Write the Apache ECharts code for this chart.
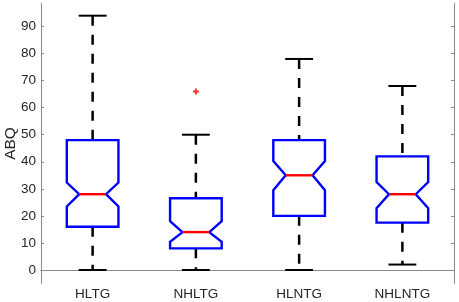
<!DOCTYPE html>
<html>
<head>
<meta charset="utf-8">
<script src="https://cdn.jsdelivr.net/npm/echarts@6/dist/echarts.min.js"></script>
<style>
html,body{margin:0;padding:0;background:#fff;}
#chart{width:459px;height:302px;}
</style>
</head>
<body>
<div id="chart"></div>
<script>
// box plot stats
var categories = ['HLTG', 'NHLTG', 'HLNTG', 'NHLNTG'];
var whiskerLow = [0, 0, 0, 2];
var q1 = [16, 8, 20, 17.5];
var notchLow = [23.5, 10.4, 29.5, 22.8];
var median = [28, 14, 35, 28];
var notchHigh = [32.3, 18, 40.3, 32.5];
var q3 = [48, 26.5, 48, 42];
var whiskerHigh = [94, 50, 78, 68];
var outlierCat = ['NHLTG'];
var outlierVal = [66];
var yTicks = [0, 10, 20, 30, 40, 50, 60, 70, 80, 90];

var axisGray = '#8a8a8a';
var textColor = '#262626';
var font = 'Liberation Sans';

var boxData = [];
for (var i = 0; i < categories.length; i++) {
	boxData.push([i, whiskerLow[i], q1[i], notchLow[i], median[i], notchHigh[i], q3[i], whiskerHigh[i]]);
}
var outlierData = [];
for (var j = 0; j < outlierCat.length; j++) {
	outlierData.push([outlierCat[j], outlierVal[j]]);
}

function renderBox(params, api) {
	var idx = api.value(0);
	var band = api.size([1, 0])[0];
	var w = band * 0.25;     // box half width
	var nw = band * 0.13;    // notch half width
	var cw = band * 0.135;   // cap half width
	var cx = api.coord([idx, 0])[0];
	function y(v) { return api.coord([idx, v])[1]; }
	var lo = y(api.value(1)), b1 = y(api.value(2)), nl = y(api.value(3)), md = y(api.value(4));
	var nh = y(api.value(5)), b3 = y(api.value(6)), hi = y(api.value(7));
	var dash = {stroke: '#000', lineWidth: 2.5, lineDash: [10, 9]};
	var solid = {stroke: '#000', lineWidth: 2};
	return {
		type: 'group',
		children: [
			{type: 'line', shape: {x1: cx, y1: hi, x2: cx, y2: b3}, style: dash},
			{type: 'line', shape: {x1: cx, y1: b1, x2: cx, y2: lo}, style: dash},
			{type: 'line', shape: {x1: cx - cw, y1: hi, x2: cx + cw, y2: hi}, style: solid},
			{type: 'line', shape: {x1: cx - cw, y1: lo, x2: cx + cw, y2: lo}, style: solid},
			{type: 'polygon', shape: {points: [
				[cx - w, b3], [cx + w, b3], [cx + w, nh], [cx + nw, md], [cx + w, nl],
				[cx + w, b1], [cx - w, b1], [cx - w, nl], [cx - nw, md], [cx - w, nh]
			]}, style: {fill: null, stroke: '#0000ff', lineWidth: 2.4}},
			{type: 'line', shape: {x1: cx - nw, y1: md, x2: cx + nw, y2: md}, style: {stroke: '#ff0000', lineWidth: 2.4}}
		]
	};
}

var chart = echarts.init(document.getElementById('chart'));
var option = {
	animation: false,
	grid: {left: 41, right: 5, top: 3.5, bottom: 18.5, containLabel: false, outerBoundsMode: 'none'},
	xAxis: [
		{
			type: 'category',
			data: categories,
			boundaryGap: true,
			axisLine: {lineStyle: {color: axisGray, width: 1}},
			axisTick: {inside: true, alignWithLabel: true, length: 3, lineStyle: {color: axisGray}},
			axisLabel: {color: textColor, fontFamily: font, fontSize: 13.5, margin: 4}
		},
		{
			type: 'category',
			position: 'top',
			data: categories,
			boundaryGap: true,
			axisLine: {lineStyle: {color: axisGray, width: 1}},
			axisTick: {inside: true, alignWithLabel: true, length: 3, lineStyle: {color: axisGray}},
			axisLabel: {show: false}
		}
	],
	yAxis: [
		{
			type: 'value',
			min: -5,
			max: 98.5,
			name: 'ABQ',
			nameLocation: 'middle',
			nameGap: 22.5,
			nameMoveOverlap: false,
			nameTextStyle: {color: textColor, fontFamily: font, fontSize: 15.5},
			axisLine: {show: true, lineStyle: {color: axisGray, width: 1}},
			axisTick: {show: true, inside: true, length: 3, customValues: yTicks, lineStyle: {color: axisGray}},
			axisLabel: {color: textColor, fontFamily: font, fontSize: 13.5, margin: 5, customValues: yTicks},
			splitLine: {show: false}
		},
		{
			type: 'value',
			position: 'right',
			min: -5,
			max: 98.5,
			axisLine: {show: true, lineStyle: {color: axisGray, width: 1}},
			axisTick: {show: true, inside: true, length: 3, customValues: yTicks, lineStyle: {color: axisGray}},
			axisLabel: {show: false},
			splitLine: {show: false}
		}
	],
	series: [
		{
			type: 'custom',
			renderItem: renderBox,
			data: boxData,
			encode: {x: 0, y: [1, 7]},
			z: 3
		},
		{
			type: 'scatter',
			data: outlierData,
			symbol: 'path://M2,0H4V2H6V4H4V6H2V4H0V2H2Z',
			symbolSize: 6,
			itemStyle: {color: '#ff0000'},
			z: 4
		}
	]
};
chart.setOption(option);
</script>
</body>
</html>
